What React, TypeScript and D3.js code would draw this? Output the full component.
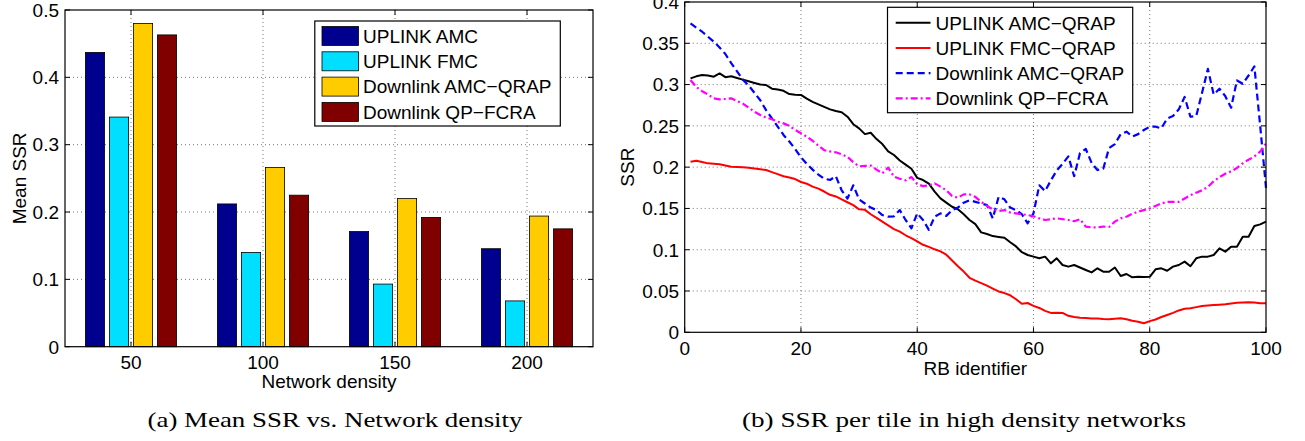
import React from "react";
import * as d3 from "d3";

// ---------- Data: (a) Mean SSR vs. Network density ----------
const densities = ["50", "100", "150", "200"];
const barSeries = ["UPLINK AMC", "UPLINK FMC", "Downlink AMC−QRAP", "Downlink QP−FCRA"];
const uplinkAMC = [0.437, 0.212, 0.171, 0.1455];
const uplinkFMC = [0.341, 0.140, 0.093, 0.068];
const downlinkAMCQRAP = [0.480, 0.266, 0.220, 0.194];
const downlinkQPFCRA = [0.463, 0.225, 0.192, 0.175];
const barColors = ["#00008F", "#00DFFF", "#FFCC00", "#800000"];
const barTicks = [0, 0.1, 0.2, 0.3, 0.4, 0.5];
const barTickLabels = ["0", "0.1", "0.2", "0.3", "0.4", "0.5"];

// ---------- Data: (b) SSR per tile (RB 1..100) ----------
const ulAmcQrap = [
  0.3075, 0.310, 0.3115, 0.311, 0.3095, 0.3135, 0.309, 0.310, 0.308, 0.306,
  0.304, 0.302, 0.300, 0.2995, 0.295, 0.294, 0.2925, 0.2885, 0.2878, 0.2875,
  0.283, 0.279, 0.276, 0.273, 0.270, 0.268, 0.2665, 0.2611, 0.252, 0.247,
  0.240, 0.2417, 0.234, 0.228, 0.219, 0.2147, 0.208, 0.203, 0.198, 0.187,
  0.1844, 0.180, 0.1703, 0.1622, 0.157, 0.152, 0.149, 0.143, 0.136, 0.131,
  0.121, 0.119, 0.1165, 0.1155, 0.1145, 0.109, 0.104, 0.097, 0.0936, 0.0916,
  0.0896, 0.0916, 0.0835, 0.0896, 0.0815, 0.0795, 0.0815, 0.0785, 0.0755, 0.0725,
  0.0775, 0.0734, 0.0734, 0.0785, 0.0682, 0.0706, 0.0666, 0.0674, 0.067, 0.0672,
  0.0763, 0.0775, 0.0745, 0.0795, 0.0815, 0.0856, 0.080, 0.0896, 0.0916, 0.0916,
  0.0936, 0.1017, 0.0977, 0.1037, 0.1037, 0.1158, 0.1158, 0.1287, 0.1307, 0.134,
];
const ulFmcQrap = [
  0.2066, 0.2078, 0.2062, 0.2046, 0.204, 0.2034, 0.202, 0.2006, 0.2002, 0.1998,
  0.1994, 0.1985, 0.1975, 0.1965, 0.194, 0.1915, 0.189, 0.1875, 0.1856, 0.182,
  0.180, 0.1764, 0.174, 0.1705, 0.1665, 0.1645, 0.161, 0.1575, 0.154, 0.1489,
  0.1483, 0.143, 0.1385, 0.134, 0.1295, 0.125, 0.1219, 0.1175, 0.114, 0.110,
  0.106, 0.1035, 0.1005, 0.098, 0.094, 0.087, 0.080, 0.0735, 0.066, 0.0625,
  0.0595, 0.0565, 0.053, 0.0495, 0.0475, 0.0448, 0.040, 0.0345, 0.0355, 0.032,
  0.0295, 0.026, 0.0235, 0.0238, 0.0235, 0.020, 0.0185, 0.0175, 0.0172, 0.0168,
  0.0168, 0.0162, 0.0158, 0.0164, 0.0169, 0.0158, 0.0141, 0.0128, 0.0109, 0.0135,
  0.0155, 0.0185, 0.021, 0.0235, 0.0265, 0.0285, 0.0291, 0.0305, 0.0318, 0.0325,
  0.0331, 0.0335, 0.0339, 0.0349, 0.0357, 0.036, 0.0363, 0.036, 0.0352, 0.0351,
];
const dlAmcQrap = [
  0.374, 0.369, 0.364, 0.358, 0.352, 0.345, 0.337, 0.326, 0.316, 0.306,
  0.299, 0.290, 0.281, 0.269, 0.259, 0.249, 0.239, 0.231, 0.222, 0.212,
  0.204, 0.197, 0.191, 0.186, 0.1845, 0.189, 0.172, 0.162, 0.178, 0.161,
  0.156, 0.151, 0.148, 0.142, 0.140, 0.1405, 0.148, 0.136, 0.126, 0.144,
  0.136, 0.124, 0.140, 0.144, 0.141, 0.148, 0.151, 0.157, 0.160, 0.158,
  0.156, 0.154, 0.138, 0.164, 0.161, 0.151, 0.148, 0.143, 0.132, 0.144,
  0.178, 0.171, 0.184, 0.196, 0.204, 0.213, 0.189, 0.217, 0.222, 0.205,
  0.1965, 0.198, 0.223, 0.228, 0.240, 0.243, 0.237, 0.240, 0.245, 0.249,
  0.249, 0.247, 0.259, 0.262, 0.270, 0.285, 0.261, 0.262, 0.290, 0.319,
  0.288, 0.295, 0.286, 0.272, 0.305, 0.301, 0.311, 0.322, 0.250, 0.175,
];
const dlQpFcra = [
  0.3055, 0.297, 0.292, 0.288, 0.2833, 0.282, 0.2825, 0.2833, 0.280, 0.277,
  0.272, 0.267, 0.2631, 0.260, 0.258, 0.255, 0.253, 0.250, 0.245, 0.241,
  0.2369, 0.232, 0.226, 0.2205, 0.219, 0.218, 0.2155, 0.2125, 0.206, 0.201,
  0.2015, 0.202, 0.197, 0.1925, 0.1995, 0.1885, 0.186, 0.184, 0.188, 0.1795,
  0.177, 0.178, 0.1804, 0.1764, 0.172, 0.165, 0.163, 0.167, 0.167, 0.164,
  0.158, 0.153, 0.149, 0.147, 0.148, 0.145, 0.144, 0.143, 0.142, 0.1405,
  0.138, 0.136, 0.137, 0.138, 0.137, 0.136, 0.1345, 0.137, 0.128, 0.127,
  0.127, 0.128, 0.1275, 0.134, 0.138, 0.140, 0.1435, 0.146, 0.148, 0.150,
  0.153, 0.156, 0.158, 0.158, 0.158, 0.162, 0.166, 0.169, 0.172, 0.176,
  0.183, 0.188, 0.192, 0.195, 0.199, 0.2046, 0.209, 0.213, 0.2187, 0.2288,
];
const lineNames = ["UPLINK AMC−QRAP", "UPLINK FMC−QRAP", "Downlink AMC−QRAP", "Downlink QP−FCRA"];
const lineXTicks = [0, 20, 40, 60, 80, 100];
const lineYTicks = [0, 0.05, 0.1, 0.15, 0.2, 0.25, 0.3, 0.35, 0.4];
const lineYTickLabels = ["0", "0.05", "0.1", "0.15", "0.2", "0.25", "0.3", "0.35", "0.4"];

const FONT = "'Liberation Sans', Arial, Helvetica, sans-serif";
const FS = 19;
const GRID = { stroke: "#666", strokeWidth: 0.9, strokeDasharray: "1,3" };
const TICK = 5;

export default function App() {
  // ---------- chart (a) geometry ----------
  const aL = 65, aR = 593, aT = 10, aB = 346.7;
  const x0 = d3.scaleBand<string>().domain(densities).range([aL, aR]).padding(0);
  const x1 = d3.scaleBand<string>().domain(barSeries).range([-48, 48]).paddingInner(0.2).paddingOuter(0.1);
  const yA = d3.scaleLinear().domain([0, 0.5]).range([aB, aT]);
  const barData = [uplinkAMC, uplinkFMC, downlinkAMCQRAP, downlinkQPFCRA];

  // ---------- chart (b) geometry ----------
  const bL = 684.7, bR = 1266, bT = 2, bB = 332.3;
  const xB = d3.scaleLinear().domain([0, 100]).range([bL, bR]);
  const yB = d3.scaleLinear().domain([0, 0.4]).range([bB, bT]);
  const line = d3.line<number>().x((_, i) => xB(i + 1)).y((d) => yB(d));
  const lineData = [ulAmcQrap, ulFmcQrap, dlAmcQrap, dlQpFcra];
  const lineStyles = [
    { stroke: "#000000", dash: undefined, w: 2 },
    { stroke: "#FF0000", dash: undefined, w: 2 },
    { stroke: "#0000FF", dash: "7,4", w: 2.2 },
    { stroke: "#FF00FF", dash: "7,3,2,3", w: 2.2 },
  ];

  const cx = (c: string) => (x0(c) as number) + x0.bandwidth() / 2;

  return (
    <svg width={1305} height={441} style={{ position: "absolute", left: 0, top: 0, background: "#fff" }} fontFamily={FONT}>
      {/* ================= Chart (a) ================= */}
      <g>
        {/* grid */}
        {barTicks.slice(1, -1).map((t) => (
          <line key={"ag" + t} x1={aL} x2={aR} y1={yA(t)} y2={yA(t)} {...GRID} />
        ))}
        {densities.map((c) => (
          <line key={"agx" + c} x1={cx(c)} x2={cx(c)} y1={aT} y2={aB} {...GRID} />
        ))}
        {/* bars */}
        {densities.map((c, ci) => (
          <g key={"grp" + c} transform={`translate(${cx(c)},0)`}>
            {barSeries.map((s, si) => (
              <rect
                key={s}
                x={x1(s) as number}
                width={x1.bandwidth()}
                y={yA(barData[si][ci])}
                height={yA(0) - yA(barData[si][ci])}
                fill={barColors[si]}
                stroke="#000"
                strokeWidth={0.8}
              />
            ))}
          </g>
        ))}
        {/* frame */}
        <rect x={aL} y={aT} width={aR - aL} height={aB - aT} fill="none" stroke="#000" strokeWidth={1.2} />
        {/* ticks */}
        {barTicks.map((t) => (
          <g key={"at" + t}>
            <line x1={aL} x2={aL + TICK} y1={yA(t)} y2={yA(t)} stroke="#000" />
            <line x1={aR} x2={aR - TICK} y1={yA(t)} y2={yA(t)} stroke="#000" />
          </g>
        ))}
        {densities.map((c) => (
          <g key={"atx" + c}>
            <line x1={cx(c)} x2={cx(c)} y1={aB} y2={aB - TICK} stroke="#000" />
            <line x1={cx(c)} x2={cx(c)} y1={aT} y2={aT + TICK} stroke="#000" />
          </g>
        ))}
        {/* tick labels */}
        {barTicks.map((t, i) => (
          <text key={"al" + t} x={aL - 6} y={yA(t) + 6.8} textAnchor="end" fontSize={FS}>
            {barTickLabels[i]}
          </text>
        ))}
        {densities.map((c) => (
          <text key={"alx" + c} x={cx(c)} y={369} textAnchor="middle" fontSize={FS}>
            {c}
          </text>
        ))}
        <text x={(aL + aR) / 2} y={388} textAnchor="middle" fontSize={FS}>
          Network density
        </text>
        <text transform={`translate(25.5,${(aT + aB) / 2}) rotate(-90)`} textAnchor="middle" fontSize={FS}>
          Mean SSR
        </text>
        {/* legend */}
        <rect x={314.8} y={21} width={245.5} height={105} fill="#fff" stroke="#000" strokeWidth={1.2} />
        {barSeries.map((s, i) => {
          const yc = 36 + i * 25.3;
          return (
            <g key={"aleg" + s}>
              <rect x={322} y={yc - 9.5} width={36.5} height={19} fill={barColors[i]} stroke="#000" strokeWidth={0.8} />
              <text x={363} y={yc + 6.8} fontSize={FS}>
                {s}
              </text>
            </g>
          );
        })}
      </g>

      {/* ================= Chart (b) ================= */}
      <g>
        {lineYTicks.slice(1, -1).map((t) => (
          <line key={"bg" + t} x1={bL} x2={bR} y1={yB(t)} y2={yB(t)} {...GRID} />
        ))}
        {lineXTicks.slice(1, -1).map((t) => (
          <line key={"bgx" + t} x1={xB(t)} x2={xB(t)} y1={bT} y2={bB} {...GRID} />
        ))}
        {lineData.map((d, i) => (
          <path
            key={"ln" + i}
            d={line(d) as string}
            fill="none"
            stroke={lineStyles[i].stroke}
            strokeWidth={lineStyles[i].w}
            strokeDasharray={lineStyles[i].dash}
            strokeLinejoin="round"
          />
        ))}
        <rect x={bL} y={bT} width={bR - bL} height={bB - bT} fill="none" stroke="#000" strokeWidth={1.2} />
        {lineYTicks.map((t) => (
          <g key={"bt" + t}>
            <line x1={bL} x2={bL + TICK} y1={yB(t)} y2={yB(t)} stroke="#000" />
            <line x1={bR} x2={bR - TICK} y1={yB(t)} y2={yB(t)} stroke="#000" />
          </g>
        ))}
        {lineXTicks.map((t) => (
          <g key={"btx" + t}>
            <line x1={xB(t)} x2={xB(t)} y1={bB} y2={bB - TICK} stroke="#000" />
            <line x1={xB(t)} x2={xB(t)} y1={bT} y2={bT + TICK} stroke="#000" />
          </g>
        ))}
        {lineYTicks.map((t, i) => (
          <text key={"bl" + t} x={bL - 5.5} y={yB(t) + 6.8} textAnchor="end" fontSize={FS}>
            {lineYTickLabels[i]}
          </text>
        ))}
        {lineXTicks.map((t) => (
          <text key={"blx" + t} x={xB(t)} y={355} textAnchor="middle" fontSize={FS}>
            {t}
          </text>
        ))}
        <text x={(bL + bR) / 2} y={375} textAnchor="middle" fontSize={FS}>
          RB identifier
        </text>
        <text transform={`translate(634,${(bT + bB) / 2}) rotate(-90)`} textAnchor="middle" fontSize={FS}>
          SSR
        </text>
        {/* legend */}
        <rect x={887.5} y={7.3} width={245.2} height={105.4} fill="#fff" stroke="#000" strokeWidth={1.2} />
        {lineNames.map((s, i) => {
          const yc = 22.7 + i * 25.2;
          return (
            <g key={"bleg" + s}>
              <line
                x1={895.7}
                x2={930.5}
                y1={yc}
                y2={yc}
                stroke={lineStyles[i].stroke}
                strokeWidth={lineStyles[i].w}
                strokeDasharray={lineStyles[i].dash}
              />
              <text x={935.6} y={yc + 6.8} fontSize={FS}>
                {s}
              </text>
            </g>
          );
        })}
      </g>

      {/* captions */}
      <text
        x={335}
        y={427}
        textAnchor="middle"
        fontFamily="'Liberation Serif', 'Times New Roman', serif"
        fontSize={22}
        textLength={375}
        lengthAdjust="spacingAndGlyphs"
      >
        (a) Mean SSR vs. Network density
      </text>
      <text
        x={964}
        y={427}
        textAnchor="middle"
        fontFamily="'Liberation Serif', 'Times New Roman', serif"
        fontSize={22}
        textLength={444}
        lengthAdjust="spacingAndGlyphs"
      >
        (b) SSR per tile in high density networks
      </text>
    </svg>
  );
}
